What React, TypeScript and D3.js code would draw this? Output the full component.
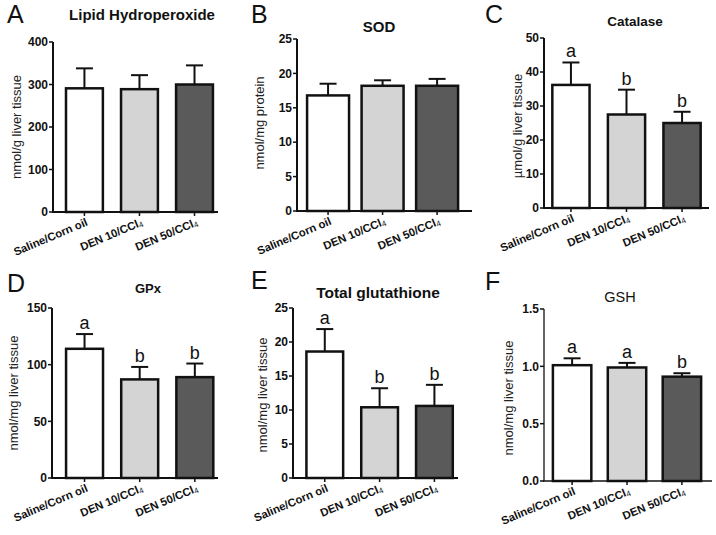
import React from "react";
import * as d3 from "d3";

const groups = ["Saline/Corn oil", "DEN 10/CCl4", "DEN 50/CCl4"];
const fills = ["#ffffff", "#d4d4d4", "#5a5a5a"];

const lipidMean = [291, 289, 300];
const lipidErr = [338, 322, 345];
const sodMean = [16.8, 18.2, 18.2];
const sodErr = [18.5, 19.0, 19.2];
const catMean = [36.2, 27.5, 25.0];
const catErr = [42.8, 34.8, 28.3];
const gpxMean = [114, 87, 89];
const gpxErr = [127, 98, 101];
const totMean = [18.6, 10.4, 10.6];
const totErr = [21.9, 13.2, 13.7];
const gshMean = [1.01, 0.99, 0.91];
const gshErr = [1.07, 1.03, 0.94];

const sigNone: string[] = [];
const sigCat = ["a", "b", "b"];
const sigGpx = ["a", "b", "b"];
const sigTot = ["a", "b", "b"];
const sigGsh = ["a", "a", "b"];

const ticksA = [0, 100, 200, 300, 400];
const ticksB = [0, 5, 10, 15, 20, 25];
const ticksC = [0, 10, 20, 30, 40, 50];
const ticksD = [0, 50, 100, 150];
const ticksE = [0, 5, 10, 15, 20, 25];
const ticksF = [0, 0.5, 1.0, 1.5];

type Panel = {
  letter: string; lx: number; ly: number;
  title: string; tx: number; ty: number; titleWeight: string; titleSize: number;
  ylabel: string; ylx: number; yly: number;
  mean: number[]; err: number[]; sig: string[];
  ticks: number[]; fmt: (v: number) => string; ymax: number;
  x0: number; x1: number; pI: number; pO: number; align: number;
  yTop: number; yZero: number; axisW: number;
};

const fmtInt = (v: number) => String(v);
const fmt1 = d3.format(".1f");

const panels: Panel[] = [
  { letter: "A", lx: 7, ly: 23, title: "Lipid Hydroperoxide", tx: 142, ty: 20, titleWeight: "bold", titleSize: 15,
    ylabel: "nmol/g  liver tissue", ylx: 21, yly: 127, mean: lipidMean, err: lipidErr, sig: sigNone,
    ticks: ticksA, fmt: fmtInt, ymax: 400, x0: 53, x1: 218, pI: 0.33, pO: 0.164, align: 0.72,
    yTop: 42, yZero: 212, axisW: 2 },
  { letter: "B", lx: 251, ly: 23, title: "SOD", tx: 379, ty: 32, titleWeight: "bold", titleSize: 15,
    ylabel: "nmol/mg  protein", ylx: 264, yly: 123, mean: sodMean, err: sodErr, sig: sigNone,
    ticks: ticksB, fmt: fmtInt, ymax: 25, x0: 297, x1: 472, pI: 0.23, pO: 0.22, align: 0.42,
    yTop: 39, yZero: 211, axisW: 2 },
  { letter: "C", lx: 485, ly: 23, title: "Catalase", tx: 635, ty: 26, titleWeight: "bold", titleSize: 13.5,
    ylabel: "µmol/g  liver tissue", ylx: 522, yly: 126, mean: catMean, err: catErr, sig: sigCat,
    ticks: ticksC, fmt: fmtInt, ymax: 50, x0: 544, x1: 709, pI: 0.33, pO: 0.15, align: 0.5,
    yTop: 38, yZero: 208, axisW: 2 },
  { letter: "D", lx: 7, ly: 292, title: "GPx", tx: 148, ty: 293, titleWeight: "bold", titleSize: 13,
    ylabel: "nmol/mg liver tissue", ylx: 18, yly: 393, mean: gpxMean, err: gpxErr, sig: sigGpx,
    ticks: ticksD, fmt: fmtInt, ymax: 150, x0: 52, x1: 218, pI: 0.33, pO: 0.17, align: 0.75,
    yTop: 308, yZero: 478, axisW: 2 },
  { letter: "E", lx: 251, ly: 289, title: "Total glutathione", tx: 378, ty: 298, titleWeight: "bold", titleSize: 15.5,
    ylabel: "nmol/mg liver tissue", ylx: 267, yly: 395, mean: totMean, err: totErr, sig: sigTot,
    ticks: ticksE, fmt: fmtInt, ymax: 25, x0: 293, x1: 458, pI: 0.33, pO: 0.17, align: 0.72,
    yTop: 308, yZero: 478, axisW: 2 },
  { letter: "F", lx: 485, ly: 290, title: "GSH", tx: 620, ty: 302, titleWeight: "normal", titleSize: 14.5,
    ylabel: "nmol/mg liver tissue", ylx: 513, yly: 398, mean: gshMean, err: gshErr, sig: sigGsh,
    ticks: ticksF, fmt: fmt1, ymax: 1.5, x0: 544, x1: 712, pI: 0.3, pO: 0.18, align: 0.45,
    yTop: 309, yZero: 481, axisW: 1.3 },
];

const FONT = "'Liberation Sans', Arial, Helvetica, sans-serif";

function GroupLabel({ name }: { name: string }) {
  if (name.endsWith("CCl4")) {
    return (
      <>
        {name.slice(0, -1)}
        <tspan fontSize={8} fontWeight="normal" dy={1.5}>4</tspan>
      </>
    );
  }
  return <>{name}</>;
}

function PanelView({ p }: { p: Panel }) {
  const x = d3.scaleBand<string>().domain(groups).range([p.x0, p.x1])
    .paddingInner(p.pI).paddingOuter(p.pO).align(p.align);
  const y = d3.scaleLinear().domain([0, p.ymax]).range([p.yZero, p.yTop]);
  const bw = x.bandwidth();
  const capW = 17;
  return (
    <g fontFamily={FONT}>
      <text x={p.lx} y={p.ly} fontSize={25} fill="#111">{p.letter}</text>
      <text x={p.tx} y={p.ty} fontSize={p.titleSize} fontWeight={p.titleWeight} textAnchor="middle" fill="#111">{p.title}</text>
      <text transform={`translate(${p.ylx},${p.yly}) rotate(-90)`} fontSize={13} textAnchor="middle" fill="#222">{p.ylabel}</text>
      {groups.map((g, i) => {
        const cx = (x(g) as number) + bw / 2;
        return (
          <g key={g}>
            <line x1={cx} x2={cx} y1={y(p.mean[i])} y2={y(p.err[i])} stroke="#111" strokeWidth={2} />
            <line x1={cx - capW / 2} x2={cx + capW / 2} y1={y(p.err[i])} y2={y(p.err[i])} stroke="#111" strokeWidth={2} />
            <rect x={x(g)} y={y(p.mean[i])} width={bw} height={p.yZero - y(p.mean[i])}
              fill={fills[i]} stroke="#111" strokeWidth={2.5} />
            {p.sig[i] ? (
              <text x={cx} y={y(p.err[i]) - 5} fontSize={18} textAnchor="middle" fill="#111">{p.sig[i]}</text>
            ) : null}
            <line x1={cx} x2={cx} y1={p.yZero} y2={p.yZero + 4} stroke="#111" strokeWidth={1.5} />
            <text transform={`translate(${cx + 4},${p.yZero + 13}) rotate(-23)`} fontSize={11.3}
              fontWeight="bold" textAnchor="end" fill="#111">
              <GroupLabel name={g} />
            </text>
          </g>
        );
      })}
      <line x1={p.x0} x2={p.x0} y1={p.yTop} y2={p.yZero} stroke="#111" strokeWidth={p.axisW} />
      <line x1={p.x0 - 1} x2={p.x1} y1={p.yZero} y2={p.yZero} stroke="#111" strokeWidth={p.axisW} />
      {p.ticks.map((t) => (
        <g key={t}>
          <line x1={p.x0 - 4} x2={p.x0} y1={y(t)} y2={y(t)} stroke="#111" strokeWidth={1.5} />
          <text x={p.x0 - 5} y={y(t)} dy="0.35em" fontSize={12} fontWeight="bold" textAnchor="end" fill="#111">{p.fmt(t)}</text>
        </g>
      ))}
    </g>
  );
}

export default function App() {
  return (
    <svg width={716} height={535} style={{ position: "absolute", left: 0, top: 0, background: "#fff" }}>
      <rect width={716} height={535} fill="#fff" />
      {panels.map((p) => <PanelView key={p.letter} p={p} />)}
    </svg>
  );
}
